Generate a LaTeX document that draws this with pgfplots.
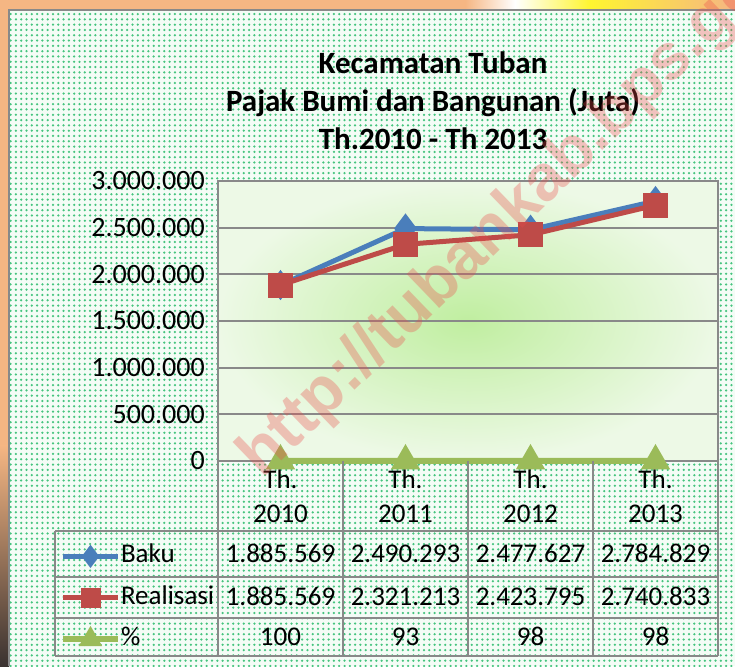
\documentclass[border=0pt]{standalone}
\usepackage{fontspec}
\setmainfont{Carlito}
\newfontfamily\wmfont{Liberation Sans}
\usepackage{pgfplots}
\pgfplotsset{compat=1.18}
\usetikzlibrary{patterns.meta}

\definecolor{gridgray}{HTML}{898989}
\definecolor{bluec}{HTML}{4A7EBB}
\definecolor{redc}{HTML}{BE4B48}
\definecolor{greenc}{HTML}{9BBB59}
\definecolor{dotgreen}{HTML}{45C47E}
\definecolor{panelbase}{HTML}{F4FCF6}
\definecolor{orangebg}{HTML}{F5B683}
\definecolor{yellowbg}{HTML}{FFF530}
\definecolor{darkbg}{HTML}{3A3230}
\definecolor{plotin}{HTML}{C0EEA0}
\definecolor{plotout}{HTML}{EDF9E6}
\definecolor{wmred}{HTML}{EC4A4A}

\newcommand{\tblfont}{\fontsize{27}{34}\selectfont}
\newcommand{\tickfont}{\fontsize{28}{34}\selectfont}

\begin{document}
\begin{tikzpicture}[x=1pt,y=1pt]
\useasboundingbox (0,0) rectangle (735,666);
% background
\fill[white] (0,0) rectangle (735,666);
\fill[panelbase] (9,0) rectangle (735,656);
\fill[pattern={Dots[radius=1.25pt,distance=5.3pt]}, pattern color=dotgreen] (9,0) rectangle (735,656);
\fill[orangebg] (0,656) rectangle (735,666);
\shade[left color=orangebg, right color=white] (465,656) rectangle (515,666);
\shade[left color=white, right color=yellowbg] (515,656) rectangle (590,666);
\shade[left color=yellowbg, right color=orangebg] (590,656) rectangle (735,666);
\fill[orangebg] (0,0) rectangle (9,666);
\shade[top color=orangebg, bottom color=darkbg] (0,0) rectangle (9,220);
\draw[gridgray, line width=2pt] (9,0) -- (9,656) -- (735,656);

% title
\node[align=center, font={\fontsize{31}{38}\selectfont\bfseries}] at (433,565)
  {Kecamatan Tuban\\Pajak Bumi dan Bangunan (Juta)\\Th.2010 - Th 2013};

\begin{axis}[
  at={(218pt,205pt)}, anchor=south west,
  scale only axis, width=500pt, height=280pt,
  xmin=-0.5, xmax=3.5, ymin=0, ymax=3000000,
  clip=false,
  xtick={0,1,2,3},
  xticklabels={{Th.\\2010},{Th.\\2011},{Th.\\2012},{Th.\\2013}},
  x tick label style={align=center, font=\tblfont, inner sep=0pt, yshift=-9pt},
  ytick={0,500000,1000000,1500000,2000000,2500000,3000000},
  yticklabels={0,500.000,1.000.000,1.500.000,2.000.000,2.500.000,3.000.000},
  y tick label style={font=\tickfont, inner sep=0pt, xshift=-13pt},
  scaled y ticks=false,
  major tick length=0pt,
  ymajorgrids,
  major grid style={draw=gridgray, line width=2pt},
  axis line style={draw=gridgray, line width=2pt},
  axis background/.style={inner color=plotin, outer color=plotout},
  legend image code/.code={\draw[mark repeat=2,mark phase=2,#1] plot coordinates {(0pt,0pt) (27.5pt,0pt) (55pt,0pt)};},
  legend image post style={mark size=7.5pt},
  legend style={draw=none, fill=none, inner sep=0pt, outer sep=0pt,
    at={(-0.316,-0.296)}, anchor=north west,
    font=\tblfont, column sep=0pt, row sep=16.5pt,
    nodes={inner sep=0pt, text height=19pt, text depth=6pt}},
  legend cell align=left,
]
\addplot[color=bluec, line width=5pt, mark=diamond*, mark size=11pt, mark options={solid}]
  coordinates {(0,1885569) (1,2490293) (2,2477627) (3,2784829)};
\addlegendentry{Baku}
\addplot[color=redc, line width=5pt, mark=square*, mark size=10pt, mark options={solid}]
  coordinates {(0,1885569) (1,2321213) (2,2423795) (3,2740833)};
\addlegendentry{Realisasi}
\addplot[color=greenc, line width=6pt, mark=triangle*, mark size=11pt, mark options={solid}]
  coordinates {(0,100) (1,93) (2,98) (3,98)};
\addlegendentry{\%}
\end{axis}

% data table
\begin{scope}[gridgray, line width=2pt]
\draw (55,135) -- (718,135);
\draw (55,89) -- (718,89);
\draw (55,48) -- (718,48);
\draw (55,10) -- (718,10);
\draw (55,135) -- (55,10);
\foreach \xx in {218,343,468,593,718} {\draw (\xx,205) -- (\xx,10);}
\end{scope}
\begin{scope}[every node/.style={font=\tblfont, inner sep=0pt, text height=17pt, text depth=0pt, anchor=center}]
\node at (280.5,112) {1.885.569};
\node at (405.5,112) {2.490.293};
\node at (530.5,112) {2.477.627};
\node at (655.5,112) {2.784.829};
\node at (280.5,69) {1.885.569};
\node at (405.5,69) {2.321.213};
\node at (530.5,69) {2.423.795};
\node at (655.5,69) {2.740.833};
\node at (280.5,29) {100};
\node at (405.5,29) {93};
\node at (530.5,29) {98};
\node at (655.5,29) {98};
\end{scope}

% watermark
\begin{scope}
\clip (0,0) rectangle (735,666);
\node[rotate=44, anchor=base west, inner sep=0pt, text=wmred, text opacity=0.32,
  font={\wmfont\bfseries\fontsize{65}{65}\selectfont}] at (262,186) {http://tubankab.bps.go.id};
\end{scope}
\end{tikzpicture}
\end{document}
